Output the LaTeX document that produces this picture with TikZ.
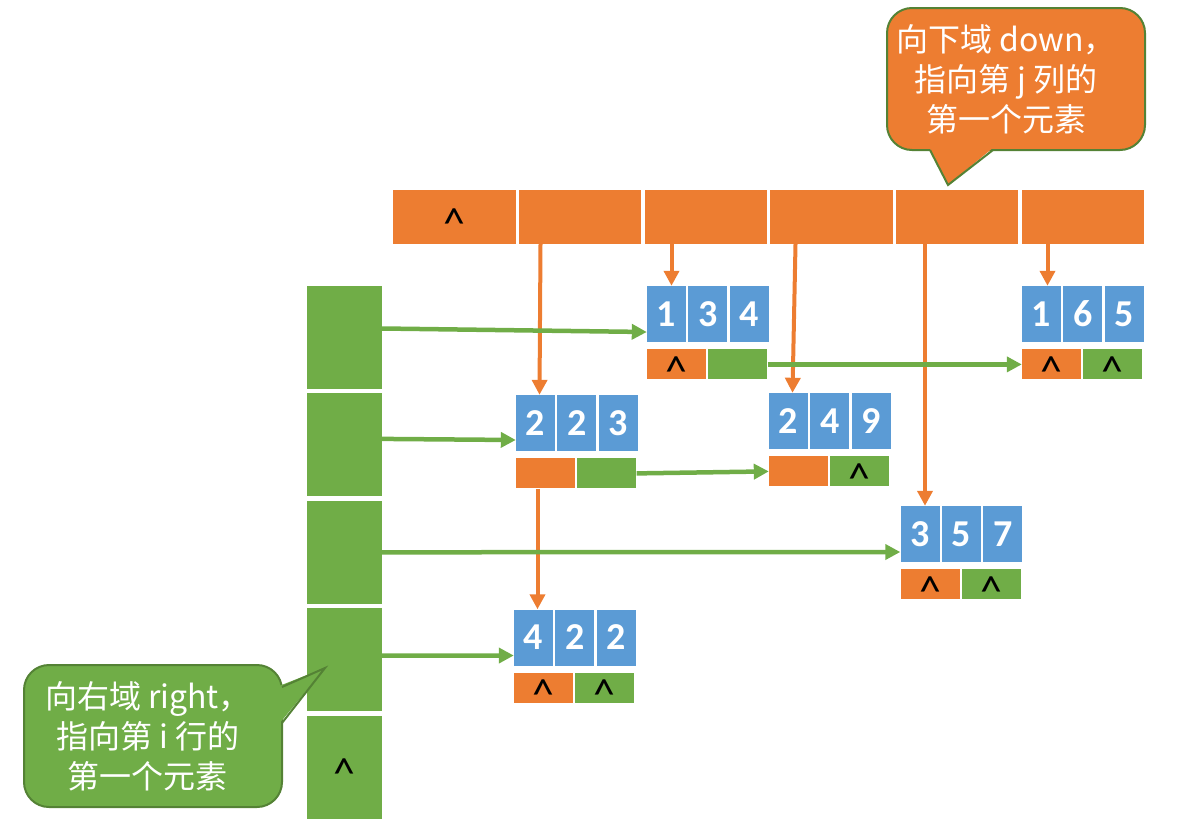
\documentclass[tikz,border=0pt]{standalone}
\usepackage{fontspec}
\setmainfont{Carlito}
\newfontfamily\cjk{Noto Sans CJK SC}
\usetikzlibrary{arrows.meta,positioning}
\definecolor{listorange}{HTML}{ED7D31}
\definecolor{listblue}{HTML}{5B9BD5}
\definecolor{listgreen}{HTML}{70AD47}
\definecolor{tipedge}{HTML}{548235}

\begin{document}
\begin{tikzpicture}[x = 1pt, y = -1pt,
						head/.style = {rectangle, fill = listorange, minimum width = 122.3pt, minimum height = 54pt, inner sep = 0pt},
						rowcell/.style = {rectangle, fill = listgreen, minimum width = 75pt, minimum height = 103pt, inner sep = 0pt},
						key/.style = {rectangle, fill = listblue, text = white, font = \fontsize{38}{38}\selectfont\bfseries, minimum width = 39pt, minimum height = 56pt, inner sep = 0pt},
						downf/.style = {rectangle, fill = listorange, minimum width = 59pt, minimum height = 30pt, inner sep = 0pt},
						rightf/.style = {downf, fill = listgreen},
						nil/.style = {font = \fontsize{44}{44}\selectfont, inner sep = 0pt, yshift = -7pt},
						downptr/.style = {-{Triangle[length = 15pt, width = 15pt]}, line width = 4pt, color = listorange},
						rightptr/.style = {downptr, line width = 4.5pt, color = listgreen},
						tipbox/.style = {line width = 2pt, draw = tipedge, rounded corners = 25pt},
						tipedgeline/.style = {line width = 2pt, draw = tipedge},
						tiptext/.style = {text = white, align = center, font = \cjk\fontsize{32}{40}\selectfont}]
		\useasboundingbox (0,0) rectangle (1184,825);
		% Column heads
		\node (hd1) at (454.5,217) [head] {};
		\node (hd2) [head, right = 3pt of hd1] {};
		\node (hd3) [head, right = 3pt of hd2] {};
		\node (hd4) [head, right = 3pt of hd3] {};
		\node (hd5) [head, right = 3pt of hd4] {};
		\node (hd6) [head, right = 3pt of hd5] {};
		\node (hd1nil) at (hd1) [nil] {\textasciicircum};
		% Row heads
		\node (row1) at (344.5,337.5) [rowcell] {};
		\node (row2) [rowcell, below = 4pt of row1] {};
		\node (row3) [rowcell, below = 4pt of row2] {};
		\node (row4) [rowcell, below = 4pt of row3] {};
		\node (row5) [rowcell, below = 4pt of row4] {};
		\node (row5nil) at (row5) [nil] {\textasciicircum};
		% Element (1,3,4)
		\node (e134a) at (666.5,314) [key] {1};
		\node (e134b) [key, right = 2pt of e134a] {3};
		\node (e134c) [key, right = 2pt of e134b] {4};
		\node (e134d) [downf, below right = 7pt and 0pt of e134a.south west] {};
		\node (e134r) [rightf, right = 2pt of e134d] {};
		\node (e134dnil) at (e134d) [nil] {\textasciicircum};
		% Element (1,6,5)
		\node (e165a) at (1041.5,314) [key] {1};
		\node (e165b) [key, right = 2pt of e165a] {6};
		\node (e165c) [key, right = 2pt of e165b] {5};
		\node (e165d) [downf, below right = 7pt and 0pt of e165a.south west] {};
		\node (e165r) [rightf, right = 2pt of e165d] {};
		\node (e165dnil) at (e165d) [nil] {\textasciicircum};
		\node (e165rnil) at (e165r) [nil] {\textasciicircum};
		% Element (2,2,3)
		\node (e223a) at (535.5,423) [key] {2};
		\node (e223b) [key, right = 2pt of e223a] {2};
		\node (e223c) [key, right = 2pt of e223b] {3};
		\node (e223d) [downf, below right = 7pt and 0pt of e223a.south west] {};
		\node (e223r) [rightf, right = 2pt of e223d] {};
		% Element (2,4,9)
		\node (e249a) at (788.5,421) [key] {2};
		\node (e249b) [key, right = 2pt of e249a] {4};
		\node (e249c) [key, right = 2pt of e249b] {9};
		\node (e249d) [downf, below right = 7pt and 0pt of e249a.south west] {};
		\node (e249r) [rightf, right = 2pt of e249d] {};
		\node (e249rnil) at (e249r) [nil] {\textasciicircum};
		% Element (3,5,7)
		\node (e357a) at (920,534) [key] {3};
		\node (e357b) [key, right = 2pt of e357a] {5};
		\node (e357c) [key, right = 2pt of e357b] {7};
		\node (e357d) [downf, below right = 7pt and 0pt of e357a.south west] {};
		\node (e357r) [rightf, right = 2pt of e357d] {};
		\node (e357dnil) at (e357d) [nil] {\textasciicircum};
		\node (e357rnil) at (e357r) [nil] {\textasciicircum};
		% Element (4,2,2)
		\node (e422a) at (533.5,637.5) [key] {4};
		\node (e422b) [key, right = 2pt of e422a] {2};
		\node (e422c) [key, right = 2pt of e422b] {2};
		\node (e422d) [downf, below right = 7pt and 0pt of e422a.south west] {};
		\node (e422r) [rightf, right = 2pt of e422d] {};
		\node (e422dnil) at (e422d) [nil] {\textasciicircum};
		\node (e422rnil) at (e422r) [nil] {\textasciicircum};
		% Down pointers
		\draw [downptr] ([xshift = 5pt]e223a.north |- hd2.south) -- ([xshift = 4pt]e223a.north);
		\draw [downptr] ([xshift = 5pt]e134a.north |- hd3.south) -- ([xshift = 5pt]e134a.north);
		\draw [downptr] ([xshift = 7pt]e249a.north |- hd4.south) -- ([xshift = 4pt]e249a.north);
		\draw [downptr] ([xshift = 5pt]e357a.north |- hd5.south) -- ([xshift = 5pt]e357a.north);
		\draw [downptr] ([xshift = 6pt]e165a.north |- hd6.south) -- ([xshift = 6pt]e165a.north);
		\draw [downptr] ([xshift = 2pt]e223d.south west -| e223a.south) -- ([xshift = 4pt]e422a.north);
		% Right pointers
		\draw [rightptr] ([yshift = 9pt]row1.east) -- ([yshift = -18pt]e134a.west);
		\draw [rightptr] ([yshift = 6pt]row2.east) -- ([yshift = -17pt]e223a.west);
		\draw [rightptr] (row3.east) -- ([yshift = -18pt]e357a.west);
		\draw [rightptr] ([yshift = 4pt]row4.east) -- ([yshift = -18pt]e422a.west);
		\draw [rightptr] (e134r.east) -- (e165d.west);
		\draw [rightptr] (e223r.east) -- (e249d.west);
		% Callout for down
		\draw [tipbox, fill = listorange] (887,8) rectangle (1145,150);
		\fill [listorange] (929,147) -- (948,185) -- (994,147) -- cycle;
		\draw [tipedgeline] (930,150) -- (948,185) -- (993,150);
		\node (downtip) at (1006,79) [tiptext] {向下域 down，\\指向第 j 列的\\第一个元素};
		% Callout for right
		\draw [tipbox, fill = listgreen] (24,665) rectangle (282,807);
		\fill [listgreen] (279,686) -- (325,668) -- (279,724) -- cycle;
		\draw [tipedgeline] (282,687) -- (325,668) -- (282,723);
		\node (righttip) at (148,736) [tiptext] {向右域 right，\\指向第 i 行的\\第一个元素};
	\end{tikzpicture}
\end{document}
